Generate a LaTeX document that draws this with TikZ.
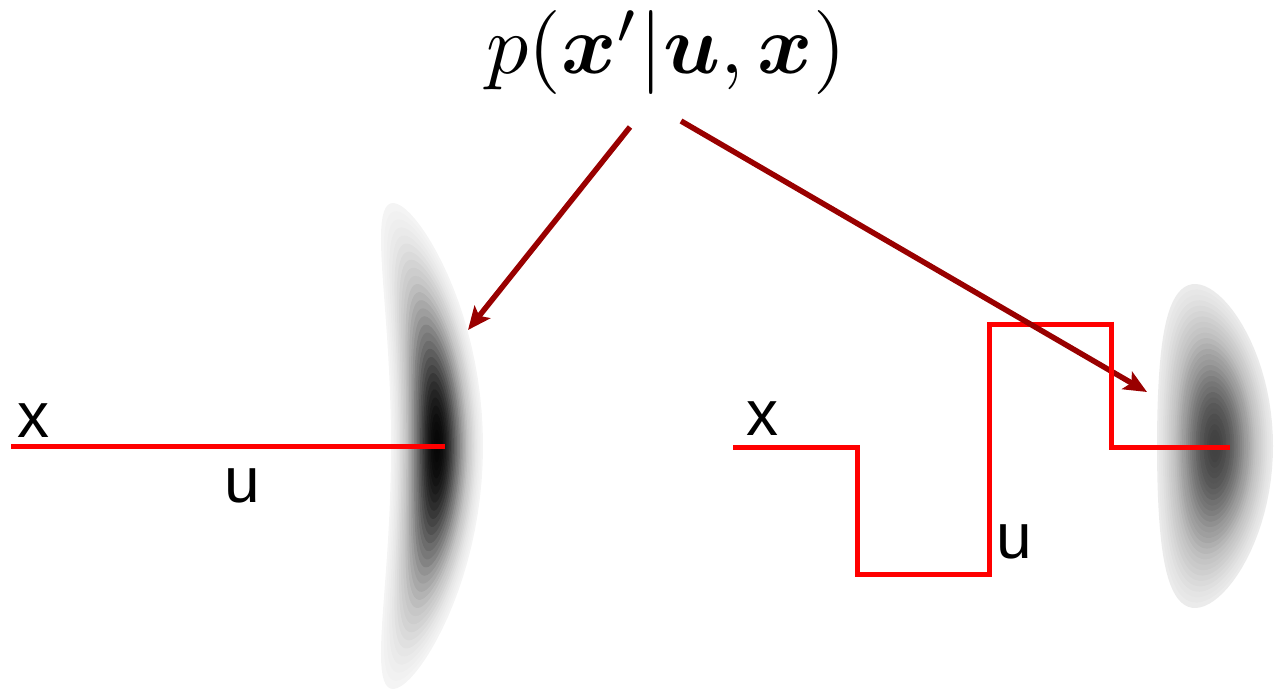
\documentclass[tikz,border=0pt]{standalone}
\usepackage{amsmath,bm}
\usepackage{fontspec}
\newfontfamily\labelfont{Liberation Sans}
\usetikzlibrary{arrows.meta}
\definecolor{arrowred}{RGB}{153,0,0}
\definecolor{pathred}{RGB}{255,0,0}
\tikzset{
  lbl/.style={anchor=base west,inner sep=0pt,font=\labelfont\fontsize{64}{70}\selectfont},
  redpath/.style={draw=pathred,line width=5pt,line join=miter,line cap=butt},
  pointer/.style={draw=arrowred,line width=5.5pt,-{Stealth[length=23pt,width=20pt,inset=5pt]}}
}
\newcommand\gblob[7]{% cx cy W H bow Dmax a
  \foreach \k in {1,...,30}{
    \pgfmathsetmacro\s{\k/30}
    \pgfmathsetmacro\tin{1-#6*exp(-#7*((\k-1)/30)^2)}
    \pgfmathsetmacro\tout{(\k==30) ? 1 : 1-#6*exp(-#7*(\k/30)^2)}
    \pgfmathsetmacro\al{1-\tin/\tout}
    \fill[black,fill opacity=\al] plot[domain=0:360,samples=90,variable=\t]
      ({#1-#5*(\s*sin(\t))^2+#3*\s*cos(\t)},{#2+#4*\s*sin(\t)}) -- cycle;
  }}
\begin{document}
\begin{tikzpicture}[x=1pt,y=-1pt]
\useasboundingbox (0,0) rectangle (1276,690);
% distributions
\gblob{437}{446}{46}{243}{44}{0.98}{3.3}
\gblob{1215}{446}{58}{162}{20}{0.74}{2.4}
% formula
\node[anchor=base,inner sep=0pt,scale=8.4] (f) at (666,74)
  {$p(\bm{x}'|\bm{u},\bm{x})$};
% left scene
\coordinate (l0) at (11,446);
\coordinate (l1) at (445,446);
\draw[redpath] (l0) -- (l1);
\node[lbl] (lx) at (17,437) {x};
\node[lbl] (lu) at (224,502) {u};
% right scene
\coordinate (r0) at (733,447);
\coordinate (r1) at (857,574);
\coordinate (r2) at (989,324);
\coordinate (r3) at (1111,324);
\coordinate (r4) at (1230,447);
\draw[redpath] (r0) -| (r1) -| (r2) -- (r3);
\node[lbl] (rx) at (746,435) {x};
\node[lbl] (ru) at (996,558) {u};
% arrows
\coordinate (a1s) at (630,127);
\coordinate (a1e) at (468,330);
\coordinate (a2s) at (681,121);
\coordinate (a2e) at (1147,392);
\draw[pointer] (a1s) -- (a1e);
\draw[pointer] (a2s) -- (a2e);
\draw[redpath] ([yshift=2.5pt]r3) |- (r4);
\end{tikzpicture}
\end{document}
